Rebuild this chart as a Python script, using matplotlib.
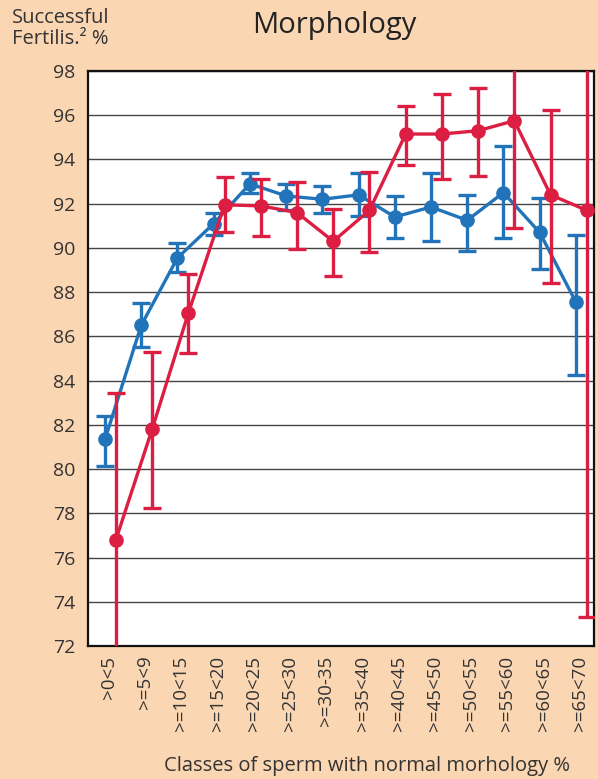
import numpy as np
import matplotlib
matplotlib.use("Agg")
import matplotlib.pyplot as plt

plt.rcParams["font.family"] = ["Open Sans", "DejaVu Sans"]

# ── data ───────────────────────────────────────────────────────────────────────
classes = [">0<5", ">=5<9", ">=10<15", ">=15<20", ">=20<25", ">=25<30", ">=30-35",
           ">=35<40", ">=40<45", ">=45<50", ">=50<55", ">=55<60", ">=60<65", ">=65<70"]

blue_mean = [81.35, 86.5, 89.55, 91.1, 92.9, 92.35, 92.2, 92.4, 91.4, 91.85, 91.25, 92.5, 90.7, 87.55]
blue_hi   = [82.4, 87.5, 90.2, 91.6, 93.4, 92.9, 92.8, 93.4, 92.35, 93.4, 92.4, 94.6, 92.25, 90.6]
blue_lo   = [80.15, 85.5, 88.9, 90.6, 92.5, 91.7, 91.6, 91.45, 90.45, 90.3, 89.85, 90.45, 89.05, 84.25]

red_mean = [76.8, 81.8, 87.05, 91.95, 91.9, 91.6, 90.3, 91.7, 95.15, 95.15, 95.3, 95.75, 92.4, 91.7]
red_hi   = [83.45, 85.3, 88.8, 93.2, 93.1, 93.0, 91.75, 93.45, 96.4, 96.95, 97.25, 99.5, 96.25, 99.5]
red_lo   = [71.0, 78.25, 85.25, 90.7, 90.55, 89.95, 88.75, 89.8, 93.75, 93.1, 93.25, 90.9, 88.4, 73.3]

yticks = list(range(72, 99, 2))

BG    = "#FBD6B2"
BLUE  = "#2274BA"
RED   = "#DC1E42"

# ── plot ───────────────────────────────────────────────────────────────────────
fig = plt.figure(figsize=(5.98, 7.79), dpi=100, facecolor=BG)
ax = fig.add_axes([88/598, 1-646/779, (594-88)/598, (646-71)/779])
ax.set_facecolor("white")

x = np.arange(len(classes))


def draw(offset, mean, lo, hi, color, z):
    mean, lo, hi = np.array(mean), np.array(lo), np.array(hi)
    ax.errorbar(x + offset, mean, yerr=[mean - lo, hi - mean], color=color,
                lw=2.4, marker="o", ms=9.5, elinewidth=2.4, capsize=6.5,
                capthick=2.4, zorder=z)


draw(-0.11, blue_mean, blue_lo, blue_hi, BLUE, 3)
draw(0.19, red_mean, red_lo, red_hi, RED, 4)

ax.set_xlim(-0.58, 13.39)
ax.set_ylim(72, 98)
ax.set_yticks(yticks)
ax.set_xticks(x)
ax.set_xticklabels(classes, rotation=90, color="#333333")
ax.tick_params(axis="both", length=0, labelsize=14, colors="#333333")
ax.tick_params(axis="x", labelsize=13.5, pad=7)
ax.tick_params(axis="y", pad=9)
for t in yticks:
    ax.axhline(t, color="#444444", lw=1.0, zorder=1)
for s in ax.spines.values():
    s.set_linewidth(1.6)
    s.set_color("#111111")

fig.text(334/598, 1-25/779, "Morphology", fontsize=21, ha="center", va="center",
         color="#222222")
fig.text(12/598, 1-8/779, "Successful\nFertilis.\u00b2 %", fontsize=14.5, ha="left",
         va="top", color="#333333", linespacing=1.1)
fig.text(367/598, 1-766/779, "Classes of sperm with normal morhology %", fontsize=14.5,
         ha="center", va="center", color="#333333")

fig.savefig("out.png", dpi=100, facecolor=BG)
